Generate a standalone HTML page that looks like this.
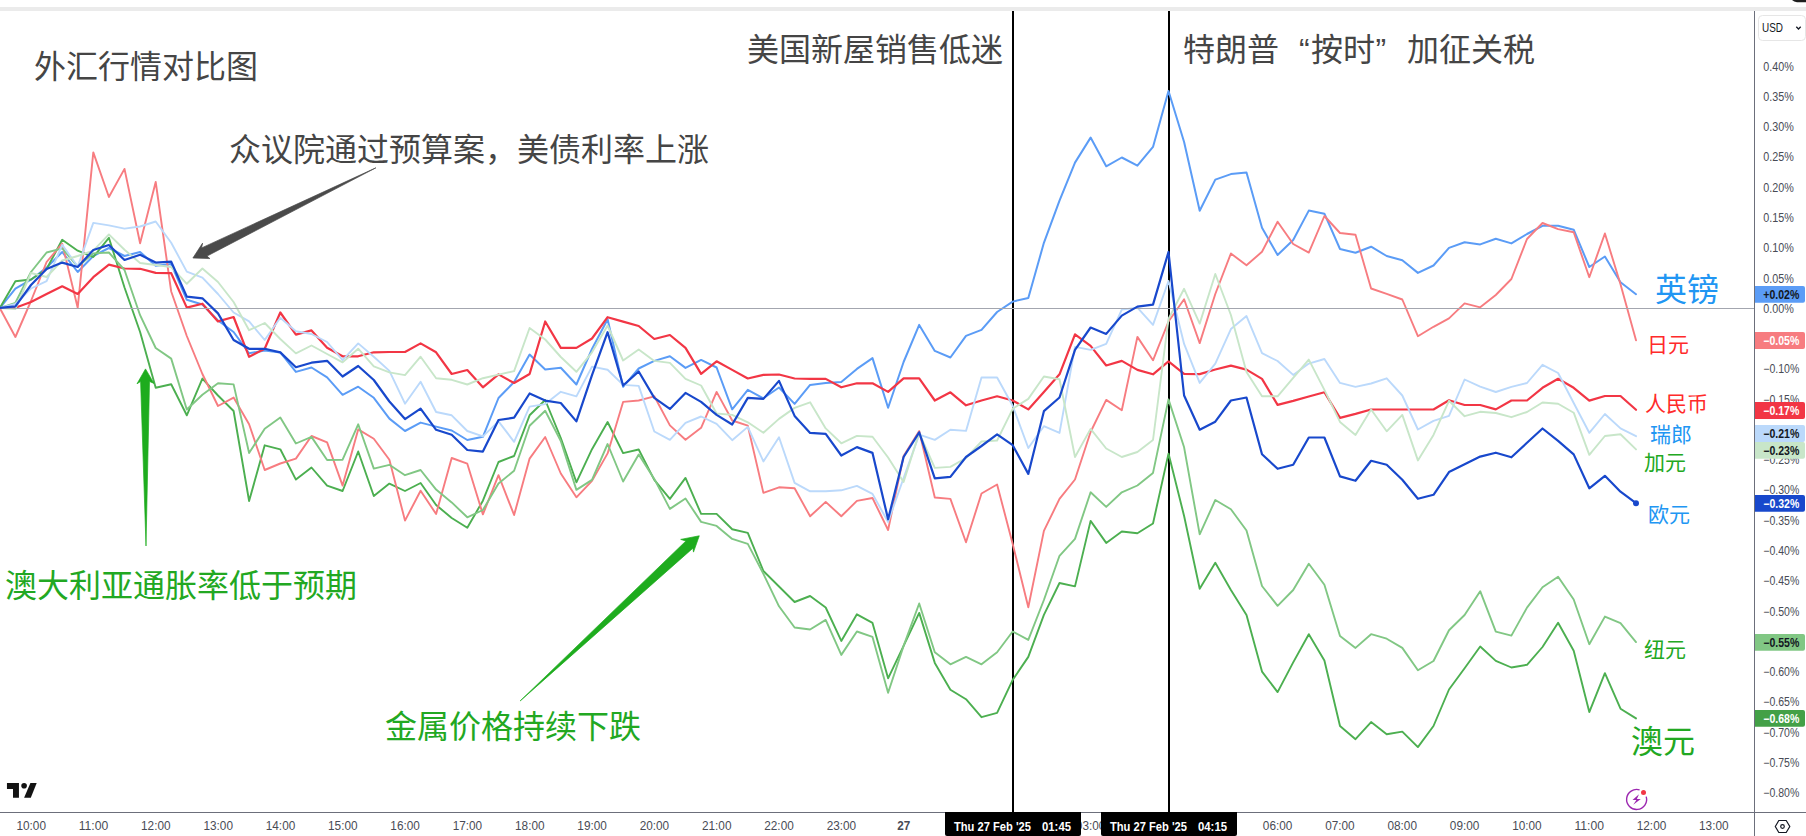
<!DOCTYPE html>
<html lang="zh"><head><meta charset="utf-8"><title>外汇行情对比图</title>
<style>
html,body{margin:0;padding:0;background:#fff;}
body{width:1806px;height:836px;overflow:hidden;position:relative;}
svg{position:absolute;left:0;top:0;display:block;}
text{font-family:"Liberation Sans","Noto Sans CJK SC",sans-serif;}
.cj{font-family:"Liberation Sans","Noto Sans CJK SC",sans-serif;}
.ax{font-size:12px;fill:#484b55;}
.pl{font-size:12px;font-weight:bold;}
.ln{fill:none;stroke-linejoin:round;stroke-linecap:round;}
</style></head><body>
<svg width="1806" height="836" viewBox="0 0 1806 836">
<rect x="0" y="0" width="1806" height="836" fill="#ffffff"/>
<rect x="0" y="7" width="1806" height="4" fill="#ebebeb"/>
<path d="M1792 0 H1806 V2.2 H1797 Q1794 2 1792 0Z" fill="#1e1e1e"/>
<line x1="1013" y1="11" x2="1013" y2="812" stroke="#000" stroke-width="2"/>
<line x1="1169" y1="11" x2="1169" y2="812" stroke="#000" stroke-width="2"/>
<g class="ln">
<polyline points="-0.2,308.0 15.4,288.6 31.0,279.7 46.6,267.6 62.2,252.0 77.7,272.0 93.3,256.0 108.9,248.0 124.5,256.0 140.1,252.0 155.7,265.8 171.2,264.0 186.8,299.8 202.4,304.5 218.0,320.5 233.6,332.0 249.1,353.3 264.7,350.6 280.3,352.4 295.9,371.9 311.5,367.5 327.1,377.4 342.6,394.8 358.2,386.7 373.8,397.8 389.4,418.6 405.0,431.0 420.6,422.6 436.1,426.6 451.7,430.5 467.3,440.0 482.9,436.8 498.5,398.0 514.1,382.0 529.6,354.6 545.2,369.4 560.8,367.8 576.4,384.5 592.0,349.0 607.6,319.2 623.1,386.9 638.7,368.5 654.3,360.9 669.9,356.3 685.5,367.9 701.1,359.9 716.6,367.5 732.2,409.3 747.8,389.9 763.4,398.3 779.0,387.5 794.6,403.9 810.1,384.9 825.7,382.9 841.3,381.9 856.9,368.9 872.5,358.1 888.1,407.8 903.6,362.0 919.2,324.9 934.8,350.9 950.4,357.5 966.0,335.9 981.5,329.9 997.1,312.0 1012.7,301.6 1028.3,298.0 1043.9,242.8 1059.5,200.7 1075.0,162.6 1090.6,137.6 1106.2,166.3 1121.8,157.5 1137.4,165.7 1153.0,146.9 1168.5,91.0 1184.1,142.0 1199.7,210.8 1215.3,179.6 1230.9,174.1 1246.5,172.5 1262.0,227.8 1277.6,255.0 1293.2,240.0 1308.8,210.6 1324.4,213.7 1340.0,249.0 1355.5,252.8 1371.1,246.7 1386.7,256.0 1402.3,260.3 1417.9,272.9 1433.5,265.5 1449.0,247.9 1464.6,242.2 1480.2,244.4 1495.8,238.7 1511.4,243.4 1527.0,234.0 1542.5,225.8 1558.1,225.8 1573.7,229.7 1589.3,267.0 1604.9,256.5 1620.5,282.3 1636.0,294.2" stroke="#5b9cf6" stroke-width="2.0"/>
<polyline points="-0.2,308.0 15.4,281.3 31.0,279.5 46.6,269.0 62.2,239.8 77.7,250.7 93.3,257.0 108.9,237.8 124.5,287.5 140.1,332.0 155.7,387.8 171.2,384.3 186.8,415.3 202.4,378.6 218.0,395.5 233.6,411.0 249.1,501.0 264.7,445.3 280.3,449.3 295.9,479.6 311.5,467.5 327.1,485.6 342.6,491.0 358.2,451.5 373.8,496.0 389.4,483.6 405.0,491.0 420.6,483.0 436.1,505.0 451.7,518.0 467.3,527.7 482.9,500.7 498.5,462.0 514.1,456.0 529.6,415.3 545.2,400.0 560.8,438.0 576.4,482.3 592.0,449.2 607.6,422.0 623.1,453.1 638.7,449.5 654.3,479.9 669.9,498.9 685.5,477.9 701.1,513.9 716.6,513.9 732.2,529.3 747.8,532.9 763.4,571.0 779.0,586.5 794.6,602.0 810.1,596.0 825.7,607.5 841.3,640.9 856.9,614.3 872.5,622.9 888.1,678.3 903.6,645.9 919.2,612.9 934.8,662.9 950.4,689.8 966.0,699.2 981.5,717.2 997.1,712.8 1012.7,679.9 1028.3,656.9 1043.9,614.9 1059.5,583.0 1075.0,586.4 1090.6,520.9 1106.2,542.9 1121.8,531.5 1137.4,533.3 1153.0,523.5 1168.5,453.6 1184.1,516.0 1199.7,588.8 1215.3,562.8 1230.9,590.0 1246.5,615.0 1262.0,671.6 1277.6,692.1 1293.2,662.4 1308.8,634.2 1324.4,660.5 1340.0,726.0 1355.5,739.2 1371.1,722.1 1386.7,734.2 1402.3,731.6 1417.9,747.1 1433.5,726.0 1449.0,689.5 1464.6,668.2 1480.2,646.5 1495.8,660.9 1511.4,667.5 1527.0,664.8 1542.5,647.0 1558.1,622.7 1573.7,650.8 1589.3,712.1 1604.9,673.2 1620.5,708.7 1636.0,718.4" stroke="#4caf50" stroke-width="1.9"/>
<polyline points="-0.2,308.0 15.4,337.0 31.0,301.0 46.6,262.0 62.2,243.6 77.7,307.7 93.3,152.4 108.9,197.0 124.5,168.9 140.1,243.3 155.7,182.0 171.2,291.5 186.8,336.0 202.4,374.0 218.0,406.0 233.6,397.6 249.1,424.3 264.7,470.0 280.3,463.5 295.9,458.6 311.5,436.0 327.1,442.4 342.6,485.6 358.2,429.4 373.8,438.7 389.4,459.7 405.0,520.6 420.6,490.7 436.1,514.0 451.7,458.0 467.3,463.7 482.9,514.4 498.5,475.2 514.1,515.0 529.6,458.6 545.2,437.0 560.8,473.5 576.4,497.3 592.0,480.9 607.6,453.4 623.1,401.9 638.7,400.5 654.3,396.3 669.9,425.4 685.5,439.8 701.1,427.8 716.6,391.9 732.2,420.5 747.8,425.7 763.4,492.9 779.0,487.3 794.6,488.3 810.1,516.3 825.7,501.9 841.3,516.3 856.9,500.9 872.5,498.0 888.1,530.0 903.6,456.0 919.2,431.0 934.8,497.5 950.4,498.9 966.0,542.3 981.5,493.5 997.1,484.5 1012.7,543.9 1028.3,607.3 1043.9,530.9 1059.5,498.9 1075.0,479.5 1090.6,432.0 1106.2,399.9 1121.8,410.2 1137.4,336.9 1153.0,360.3 1168.5,321.5 1184.1,299.2 1199.7,343.1 1215.3,294.0 1230.9,253.5 1246.5,265.3 1262.0,251.8 1277.6,221.7 1293.2,244.0 1308.8,252.6 1324.4,216.0 1340.0,233.0 1355.5,234.8 1371.1,288.5 1386.7,293.9 1402.3,299.5 1417.9,336.2 1433.5,326.8 1449.0,318.4 1464.6,303.4 1480.2,307.3 1495.8,295.0 1511.4,279.0 1527.0,239.0 1542.5,223.0 1558.1,229.1 1573.7,232.2 1589.3,277.2 1604.9,233.5 1620.5,284.2 1636.0,340.3" stroke="#f77c80" stroke-width="1.9"/>
<polyline points="-0.2,308.0 15.4,307.7 31.0,302.0 46.6,294.0 62.2,286.3 77.7,294.0 93.3,277.2 108.9,264.6 124.5,268.5 140.1,268.8 155.7,272.9 171.2,273.2 186.8,307.6 202.4,303.7 218.0,321.4 233.6,317.0 249.1,356.8 264.7,348.8 280.3,312.5 295.9,334.6 311.5,330.4 327.1,347.8 342.6,356.3 358.2,356.3 373.8,352.3 389.4,352.0 405.0,352.0 420.6,343.4 436.1,352.3 451.7,374.0 467.3,370.0 482.9,387.3 498.5,374.4 514.1,383.0 529.6,374.0 545.2,321.5 560.8,347.9 576.4,347.9 592.0,338.5 607.6,317.2 623.1,321.6 638.7,326.0 654.3,339.0 669.9,335.0 685.5,347.9 701.1,373.9 716.6,361.3 732.2,369.9 747.8,378.5 763.4,374.9 779.0,374.5 794.6,378.5 810.1,378.9 825.7,378.9 841.3,387.3 856.9,383.3 872.5,383.3 888.1,391.9 903.6,378.3 919.2,378.3 934.8,400.5 950.4,392.3 966.0,405.3 981.5,400.5 997.1,396.3 1012.7,400.5 1028.3,409.4 1043.9,391.9 1059.5,374.3 1075.0,334.3 1090.6,345.9 1106.2,365.5 1121.8,360.9 1137.4,369.9 1153.0,374.3 1168.5,361.3 1184.1,373.9 1199.7,374.1 1215.3,369.5 1230.9,365.6 1246.5,369.6 1262.0,378.9 1277.6,404.9 1293.2,400.9 1308.8,396.5 1324.4,392.3 1340.0,417.9 1355.5,413.9 1371.1,409.5 1386.7,409.5 1402.3,409.5 1417.9,409.5 1433.5,409.5 1449.0,400.3 1464.6,405.0 1480.2,405.0 1495.8,409.4 1511.4,400.5 1527.0,400.5 1542.5,387.8 1558.1,378.8 1573.7,387.8 1589.3,400.6 1604.9,396.0 1620.5,396.0 1636.0,409.8" stroke="#f23645" stroke-width="2.2"/>
<polyline points="-0.2,308.0 15.4,302.8 31.0,272.0 46.6,252.5 62.2,248.4 77.7,266.7 93.3,253.4 108.9,252.5 124.5,270.0 140.1,315.2 155.7,348.0 171.2,358.6 186.8,409.5 202.4,394.7 218.0,383.3 233.6,384.4 249.1,453.0 264.7,428.7 280.3,417.6 295.9,443.5 311.5,436.9 327.1,460.0 342.6,459.7 358.2,424.3 373.8,468.6 389.4,464.8 405.0,475.2 420.6,470.0 436.1,489.6 451.7,502.4 467.3,517.3 482.9,510.0 498.5,483.4 514.1,470.8 529.6,425.8 545.2,410.8 560.8,441.0 576.4,489.9 592.0,479.9 607.6,444.0 623.1,481.5 638.7,454.6 654.3,478.9 669.9,508.9 685.5,498.5 701.1,521.9 716.6,525.9 732.2,538.9 747.8,543.9 763.4,573.9 779.0,606.3 794.6,627.5 810.1,629.5 825.7,619.9 841.3,654.9 856.9,631.5 872.5,636.9 888.1,692.8 903.6,645.9 919.2,603.5 934.8,652.3 950.4,664.3 966.0,656.9 981.5,664.3 997.1,652.3 1012.7,631.5 1028.3,639.9 1043.9,600.0 1059.5,555.8 1075.0,538.9 1090.6,492.3 1106.2,506.9 1121.8,492.3 1137.4,485.5 1153.0,472.9 1168.5,399.4 1184.1,447.3 1199.7,534.4 1215.3,500.0 1230.9,509.2 1246.5,530.5 1262.0,586.0 1277.6,605.8 1293.2,590.0 1308.8,563.8 1324.4,584.7 1340.0,636.0 1355.5,647.9 1371.1,634.2 1386.7,638.7 1402.3,647.9 1417.9,670.3 1433.5,661.0 1449.0,630.3 1464.6,615.0 1480.2,591.2 1495.8,631.6 1511.4,635.6 1527.0,607.6 1542.5,587.2 1558.1,576.7 1573.7,599.5 1589.3,644.2 1604.9,616.6 1620.5,623.2 1636.0,642.1" stroke="#81c784" stroke-width="1.9"/>
<polyline points="-0.2,308.0 15.4,304.0 31.0,288.5 46.6,281.2 62.2,244.8 77.7,266.5 93.3,222.9 108.9,225.4 124.5,228.6 140.1,226.5 155.7,221.5 171.2,242.8 186.8,271.6 202.4,277.6 218.0,294.0 233.6,312.5 249.1,321.4 264.7,340.0 280.3,317.8 295.9,331.2 311.5,334.0 327.1,342.0 342.6,360.2 358.2,343.4 373.8,356.7 389.4,370.9 405.0,403.7 420.6,381.7 436.1,412.0 451.7,415.3 467.3,431.0 482.9,436.4 498.5,421.4 514.1,441.8 529.6,406.6 545.2,404.1 560.8,391.8 576.4,396.4 592.0,366.6 607.6,369.7 623.1,384.9 638.7,385.9 654.3,431.5 669.9,439.9 685.5,422.9 701.1,416.5 716.6,423.9 732.2,440.2 747.8,426.9 763.4,461.4 779.0,437.2 794.6,482.9 810.1,491.3 825.7,491.3 841.3,490.3 856.9,485.9 872.5,493.9 888.1,522.0 903.6,478.0 919.2,434.6 934.8,439.9 950.4,429.7 966.0,430.9 981.5,377.5 997.1,377.5 1012.7,405.8 1028.3,448.0 1043.9,426.2 1059.5,432.9 1075.0,346.9 1090.6,349.9 1106.2,343.9 1121.8,309.6 1137.4,307.6 1153.0,324.9 1168.5,281.0 1184.1,343.9 1199.7,382.9 1215.3,363.7 1230.9,329.1 1246.5,316.1 1262.0,353.2 1277.6,361.0 1293.2,374.9 1308.8,363.6 1324.4,359.0 1340.0,382.9 1355.5,386.9 1371.1,383.5 1386.7,378.3 1402.3,395.5 1417.9,429.5 1433.5,420.9 1449.0,415.9 1464.6,379.5 1480.2,386.6 1495.8,392.0 1511.4,386.8 1527.0,383.0 1542.5,364.8 1558.1,373.0 1573.7,403.0 1589.3,432.8 1604.9,414.0 1620.5,428.4 1636.0,436.2" stroke="#bbd9fb" stroke-width="1.9"/>
<polyline points="-0.2,308.0 15.4,309.0 31.0,273.0 46.6,277.0 62.2,260.5 77.7,256.0 93.3,250.7 108.9,234.4 124.5,249.8 140.1,263.0 155.7,265.0 171.2,267.0 186.8,283.8 202.4,268.5 218.0,282.0 233.6,302.0 249.1,330.2 264.7,323.0 280.3,339.0 295.9,353.4 311.5,345.5 327.1,354.0 342.6,362.4 358.2,348.7 373.8,366.4 389.4,372.4 405.0,375.1 420.6,356.7 436.1,378.3 451.7,379.8 467.3,384.5 482.9,378.2 498.5,374.6 514.1,371.1 529.6,328.0 545.2,339.5 560.8,357.0 576.4,371.8 592.0,352.3 607.6,325.5 623.1,360.5 638.7,349.5 654.3,360.9 669.9,362.9 685.5,378.9 701.1,385.5 716.6,413.5 732.2,414.9 747.8,422.3 763.4,432.8 779.0,418.9 794.6,407.9 810.1,402.3 825.7,428.4 841.3,443.3 856.9,435.9 872.5,436.8 888.1,457.5 903.6,481.9 919.2,433.0 934.8,467.9 950.4,466.9 966.0,458.0 981.5,441.5 997.1,440.5 1012.7,408.8 1028.3,398.9 1043.9,376.5 1059.5,379.3 1075.0,457.0 1090.6,428.9 1106.2,448.5 1121.8,457.0 1137.4,452.0 1153.0,440.0 1168.5,319.0 1184.1,288.8 1199.7,323.6 1215.3,274.0 1230.9,315.0 1246.5,372.0 1262.0,396.3 1277.6,396.3 1293.2,377.9 1308.8,359.6 1324.4,389.9 1340.0,421.9 1355.5,434.9 1371.1,409.5 1386.7,431.3 1402.3,414.9 1417.9,460.4 1433.5,434.9 1449.0,400.8 1464.6,416.2 1480.2,411.8 1495.8,413.0 1511.4,417.2 1527.0,412.0 1542.5,402.5 1558.1,403.7 1573.7,412.7 1589.3,454.8 1604.9,436.0 1620.5,434.3 1636.0,449.4" stroke="#c8e6c9" stroke-width="1.9"/>
</g>
<line x1="0" y1="308.5" x2="1754" y2="308.5" stroke="#a3a6af" stroke-width="1"/>
<polyline class="ln" points="-0.2,308.0 15.4,306.3 31.0,285.0 46.6,269.0 62.2,262.6 77.7,267.0 93.3,250.0 108.9,245.0 124.5,260.0 140.1,254.8 155.7,262.6 171.2,261.7 186.8,296.6 202.4,298.3 218.0,313.4 233.6,340.0 249.1,348.8 264.7,348.8 280.3,352.4 295.9,367.2 311.5,362.7 327.1,360.8 342.6,376.5 358.2,366.0 373.8,380.0 389.4,401.5 405.0,419.1 420.6,408.6 436.1,429.8 451.7,434.8 467.3,450.0 482.9,451.6 498.5,420.0 514.1,417.7 529.6,393.5 545.2,400.6 560.8,403.0 576.4,421.4 592.0,375.2 607.6,332.2 623.1,385.5 638.7,371.5 654.3,397.9 669.9,408.9 685.5,392.9 701.1,401.9 716.6,414.9 732.2,424.5 747.8,397.9 763.4,398.9 779.0,380.9 794.6,415.9 810.1,432.9 825.7,433.9 841.3,455.5 856.9,447.1 872.5,452.9 888.1,519.3 903.6,457.0 919.2,432.3 934.8,478.3 950.4,476.9 966.0,457.0 981.5,446.0 997.1,434.4 1012.7,445.2 1028.3,473.9 1043.9,411.2 1059.5,397.5 1075.0,349.9 1090.6,327.5 1106.2,333.9 1121.8,315.6 1137.4,306.6 1153.0,304.6 1168.5,252.0 1184.1,395.5 1199.7,429.7 1215.3,421.7 1230.9,400.5 1246.5,397.5 1262.0,454.3 1277.6,468.8 1293.2,464.8 1308.8,437.5 1324.4,437.5 1340.0,476.4 1355.5,480.8 1371.1,460.8 1386.7,464.8 1402.3,479.8 1417.9,498.8 1433.5,494.8 1449.0,472.1 1464.6,464.3 1480.2,456.6 1495.8,452.7 1511.4,457.3 1527.0,442.8 1542.5,428.5 1558.1,440.8 1573.7,454.4 1589.3,488.3 1604.9,475.8 1620.5,491.7 1636.0,503.2" stroke="#1848cc" stroke-width="2.2"/>
<circle cx="1636.0" cy="503.2" r="3" fill="#1848cc"/>
<polygon points="375.9,167.8 201.6,247.9 202.6,243.1 192.9,258 209.9,258.6 207,256.1" fill="#4a4a4a" stroke="#4a4a4a" stroke-width="0.7" stroke-linejoin="round"/>
<polygon points="146,546 140.6,381.5 137,383.8 145.5,368.9 154,383.4 149.5,381.5" fill="#1eac1e" stroke="#1eac1e" stroke-width="0.7" stroke-linejoin="round"/>
<polygon points="520.2,700.9 685.9,541 680.7,539.4 699.3,535.8 693.5,552.1 692.9,548.2" fill="#1eac1e" stroke="#1eac1e" stroke-width="0.7" stroke-linejoin="round"/>
<g class="cj" font-size="32">
<text x="34" y="78" fill="#454545">外汇行情对比图</text>
<text x="229" y="161" fill="#454545">众议院通过预算案，美债利率上涨</text>
<text x="747" y="61" fill="#454545">美国新屋销售低迷</text>
<text x="1183" y="61" fill="#454545">特朗普<tspan x="1299">“</tspan><tspan x="1311">按时</tspan><tspan x="1375.5">”</tspan><tspan x="1407">加征关税</tspan></text>
<text x="5" y="597" fill="#22a822">澳大利亚通胀率低于预期</text>
<text x="385" y="738" fill="#22a822">金属价格持续下跌</text>
<text x="1655" y="301" fill="#2196f3">英镑</text>
<text x="1631" y="753" fill="#22a822">澳元</text>
</g>
<g class="cj" font-size="21">
<text x="1647" y="352" fill="#ff2a2a">日元</text>
<text x="1645" y="411" fill="#ff2a2a">人民币</text>
<text x="1650" y="442" fill="#2196f3">瑞郎</text>
<text x="1644" y="470" fill="#22a822">加元</text>
<text x="1648" y="522" fill="#2196f3">欧元</text>
<text x="1644" y="657" fill="#22a822">纽元</text>
</g>
<rect x="1754" y="11" width="1" height="825" fill="#6c6f7b"/>
<rect x="0" y="812" width="1806" height="1" fill="#6c6f7b"/>
<g class="ax">
<text x="1763.3" y="70.6" textLength="30.5" lengthAdjust="spacingAndGlyphs">0.40%</text>
<text x="1763.3" y="100.9" textLength="30.5" lengthAdjust="spacingAndGlyphs">0.35%</text>
<text x="1763.3" y="131.2" textLength="30.5" lengthAdjust="spacingAndGlyphs">0.30%</text>
<text x="1763.3" y="161.4" textLength="30.5" lengthAdjust="spacingAndGlyphs">0.25%</text>
<text x="1763.3" y="191.7" textLength="30.5" lengthAdjust="spacingAndGlyphs">0.20%</text>
<text x="1763.3" y="222.0" textLength="30.5" lengthAdjust="spacingAndGlyphs">0.15%</text>
<text x="1763.3" y="252.2" textLength="30.5" lengthAdjust="spacingAndGlyphs">0.10%</text>
<text x="1763.3" y="282.5" textLength="30.5" lengthAdjust="spacingAndGlyphs">0.05%</text>
<text x="1763.3" y="312.8" textLength="30.5" lengthAdjust="spacingAndGlyphs">0.00%</text>
<text x="1763.3" y="373.4" textLength="36" lengthAdjust="spacingAndGlyphs">−0.10%</text>
<text x="1763.3" y="403.6" textLength="36" lengthAdjust="spacingAndGlyphs">−0.15%</text>
<text x="1763.3" y="464.2" textLength="36" lengthAdjust="spacingAndGlyphs">−0.25%</text>
<text x="1763.3" y="494.4" textLength="36" lengthAdjust="spacingAndGlyphs">−0.30%</text>
<text x="1763.3" y="524.7" textLength="36" lengthAdjust="spacingAndGlyphs">−0.35%</text>
<text x="1763.3" y="555.0" textLength="36" lengthAdjust="spacingAndGlyphs">−0.40%</text>
<text x="1763.3" y="585.3" textLength="36" lengthAdjust="spacingAndGlyphs">−0.45%</text>
<text x="1763.3" y="615.5" textLength="36" lengthAdjust="spacingAndGlyphs">−0.50%</text>
<text x="1763.3" y="676.1" textLength="36" lengthAdjust="spacingAndGlyphs">−0.60%</text>
<text x="1763.3" y="706.4" textLength="36" lengthAdjust="spacingAndGlyphs">−0.65%</text>
<text x="1763.3" y="736.6" textLength="36" lengthAdjust="spacingAndGlyphs">−0.70%</text>
<text x="1763.3" y="766.9" textLength="36" lengthAdjust="spacingAndGlyphs">−0.75%</text>
<text x="1763.3" y="797.2" textLength="36" lengthAdjust="spacingAndGlyphs">−0.80%</text>
</g>
<g class="pl">
<path d="M1755 286.0 H1803 Q1805 286.0 1805 288.0 V300.8 Q1805 302.8 1803 302.8 H1755Z" fill="#5b9cf6"/>
<text x="1763.3" y="298.7" fill="#131722" textLength="36" lengthAdjust="spacingAndGlyphs">+0.02%</text>
<path d="M1755 332.1 H1803 Q1805 332.1 1805 334.1 V346.9 Q1805 348.9 1803 348.9 H1755Z" fill="#f77c80"/>
<text x="1763.3" y="344.8" fill="#fff" textLength="36" lengthAdjust="spacingAndGlyphs">−0.05%</text>
<path d="M1755 402.1 H1803 Q1805 402.1 1805 404.1 V416.9 Q1805 418.9 1803 418.9 H1755Z" fill="#f23645"/>
<text x="1763.3" y="414.8" fill="#fff" textLength="36" lengthAdjust="spacingAndGlyphs">−0.17%</text>
<path d="M1755 425.1 H1803 Q1805 425.1 1805 427.1 V439.9 Q1805 441.9 1803 441.9 H1755Z" fill="#bbd9fb"/>
<text x="1763.3" y="437.8" fill="#131722" textLength="36" lengthAdjust="spacingAndGlyphs">−0.21%</text>
<path d="M1755 441.9 H1803 Q1805 441.9 1805 443.9 V456.7 Q1805 458.7 1803 458.7 H1755Z" fill="#c8e6c9"/>
<text x="1763.3" y="454.6" fill="#131722" textLength="36" lengthAdjust="spacingAndGlyphs">−0.23%</text>
<path d="M1755 494.9 H1803 Q1805 494.9 1805 496.9 V509.7 Q1805 511.7 1803 511.7 H1755Z" fill="#1848cc"/>
<text x="1763.3" y="507.6" fill="#fff" textLength="36" lengthAdjust="spacingAndGlyphs">−0.32%</text>
<path d="M1755 634.0 H1803 Q1805 634.0 1805 636.0 V648.8 Q1805 650.8 1803 650.8 H1755Z" fill="#81c784"/>
<text x="1763.3" y="646.7" fill="#131722" textLength="36" lengthAdjust="spacingAndGlyphs">−0.55%</text>
<path d="M1755 710.0 H1803 Q1805 710.0 1805 712.0 V724.8 Q1805 726.8 1803 726.8 H1755Z" fill="#43a047"/>
<text x="1763.3" y="722.7" fill="#fff" textLength="36" lengthAdjust="spacingAndGlyphs">−0.68%</text>
</g>
<rect x="1758.5" y="15.5" width="47" height="25" rx="4" fill="#fff" stroke="#e6e6e6" stroke-width="1"/>
<text x="1762" y="32" font-size="12" fill="#131722" textLength="21" lengthAdjust="spacingAndGlyphs">USD</text>
<path d="M1796.3 26.8 L1798.5 29 L1800.7 26.8" fill="none" stroke="#131722" stroke-width="1.3"/>
<g class="ax" text-anchor="middle">
<text x="31.2" y="830" textLength="29.5" lengthAdjust="spacingAndGlyphs">10:00</text>
<text x="93.5" y="830" textLength="29.5" lengthAdjust="spacingAndGlyphs">11:00</text>
<text x="155.8" y="830" textLength="29.5" lengthAdjust="spacingAndGlyphs">12:00</text>
<text x="218.2" y="830" textLength="29.5" lengthAdjust="spacingAndGlyphs">13:00</text>
<text x="280.5" y="830" textLength="29.5" lengthAdjust="spacingAndGlyphs">14:00</text>
<text x="342.8" y="830" textLength="29.5" lengthAdjust="spacingAndGlyphs">15:00</text>
<text x="405.1" y="830" textLength="29.5" lengthAdjust="spacingAndGlyphs">16:00</text>
<text x="467.4" y="830" textLength="29.5" lengthAdjust="spacingAndGlyphs">17:00</text>
<text x="529.8" y="830" textLength="29.5" lengthAdjust="spacingAndGlyphs">18:00</text>
<text x="592.1" y="830" textLength="29.5" lengthAdjust="spacingAndGlyphs">19:00</text>
<text x="654.4" y="830" textLength="29.5" lengthAdjust="spacingAndGlyphs">20:00</text>
<text x="716.7" y="830" textLength="29.5" lengthAdjust="spacingAndGlyphs">21:00</text>
<text x="779.0" y="830" textLength="29.5" lengthAdjust="spacingAndGlyphs">22:00</text>
<text x="841.4" y="830" textLength="29.5" lengthAdjust="spacingAndGlyphs">23:00</text>
<text x="903.7" y="830" font-weight="bold" textLength="13" lengthAdjust="spacingAndGlyphs">27</text>
<text x="966.0" y="830" textLength="29.5" lengthAdjust="spacingAndGlyphs">01:00</text>
<text x="1028.3" y="830" textLength="29.5" lengthAdjust="spacingAndGlyphs">02:00</text>
<text x="1090.6" y="830" textLength="29.5" lengthAdjust="spacingAndGlyphs">03:00</text>
<text x="1153.0" y="830" textLength="29.5" lengthAdjust="spacingAndGlyphs">04:00</text>
<text x="1215.3" y="830" textLength="29.5" lengthAdjust="spacingAndGlyphs">05:00</text>
<text x="1277.6" y="830" textLength="29.5" lengthAdjust="spacingAndGlyphs">06:00</text>
<text x="1339.9" y="830" textLength="29.5" lengthAdjust="spacingAndGlyphs">07:00</text>
<text x="1402.2" y="830" textLength="29.5" lengthAdjust="spacingAndGlyphs">08:00</text>
<text x="1464.6" y="830" textLength="29.5" lengthAdjust="spacingAndGlyphs">09:00</text>
<text x="1526.9" y="830" textLength="29.5" lengthAdjust="spacingAndGlyphs">10:00</text>
<text x="1589.2" y="830" textLength="29.5" lengthAdjust="spacingAndGlyphs">11:00</text>
<text x="1651.5" y="830" textLength="29.5" lengthAdjust="spacingAndGlyphs">12:00</text>
<text x="1713.8" y="830" textLength="29.5" lengthAdjust="spacingAndGlyphs">13:00</text>
</g>
<path d="M945 812 H1081 V834 Q1081 836 1079 836 H947 Q945 836 945 834Z" fill="#000"/>
<path d="M1101 812 H1237 V834 Q1237 836 1235 836 H1103 Q1101 836 1101 834Z" fill="#000"/>
<g class="pl" fill="#fff">
<text x="954" y="831" textLength="77" lengthAdjust="spacingAndGlyphs">Thu 27 Feb '25</text>
<text x="1042" y="831" textLength="29" lengthAdjust="spacingAndGlyphs">01:45</text>
<text x="1110" y="831" textLength="77" lengthAdjust="spacingAndGlyphs">Thu 27 Feb '25</text>
<text x="1198" y="831" textLength="29" lengthAdjust="spacingAndGlyphs">04:15</text>
</g>
<g fill="#131313"><path d="M6.95 783 H18.95 V797.8 H13 V789 H6.95Z"/><circle cx="24.1" cy="785.8" r="2.8"/><path d="M30.4 783 H36.7 L30.8 797.8 H24.1Z"/></g>
<g fill="none" stroke="#9c27b0" stroke-width="1.4"><path d="M1646.2 796.6 A10 10 0 1 1 1639.6 789.9"/></g>
<path d="M1639 794.3 L1632.5 799.9 H1636.4 L1633.2 804.8 L1640.8 799.1 H1636.9Z" fill="#9c27b0"/>
<circle cx="1643.5" cy="792.5" r="2.5" fill="#f23645"/>
<g fill="none" stroke="#131722" stroke-width="1.2"><path d="M1775.3 826.5 L1778.8 820.5 H1786.2 L1789.8 826.5 L1786.2 832.5 H1778.8Z"/><circle cx="1782.5" cy="826.5" r="1.8"/></g>
</svg></body></html>
